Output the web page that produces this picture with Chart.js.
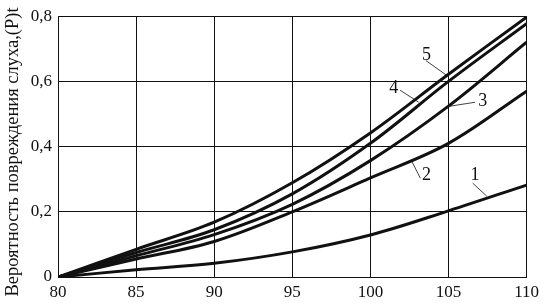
<!DOCTYPE html>
<html><head><meta charset="utf-8">
<script src="https://cdn.jsdelivr.net/npm/chart.js@4/dist/chart.umd.min.js"></script>
<style>html,body{margin:0;padding:0;background:#fff}#w{width:544px;height:305px}</style>
</head><body><div id="w"><canvas id="c"></canvas></div>
<script>
const levels = [80, 85, 90, 95, 100, 105, 110];
const curve1 = [0, 0.022, 0.042, 0.077, 0.129, 0.203, 0.282];
const curve2 = [0, 0.055, 0.109, 0.200, 0.304, 0.410, 0.570];
const curve3 = [0, 0.065, 0.130, 0.223, 0.357, 0.524, 0.720];
const curve4 = [0, 0.075, 0.145, 0.255, 0.410, 0.600, 0.777];
const curve5 = [0, 0.085, 0.168, 0.289, 0.442, 0.622, 0.797];
const yTicks = ['0', '0,2', '0,4', '0,6', '0,8'];
const yTitle = 'Вероятность повреждения слуха,(P)t';
const curveNames = ['1', '2', '3', '4', '5'];
// label anchors in data units: [textX, textY, lineX1, lineY1, lineX2, lineY2]
const labelAnchors = [
  [106.7, 0.312, 106.55, 0.288, 107.45, 0.248],
  [103.6, 0.312, 103.2, 0.303, 102.65, 0.355],
  [107.2, 0.539, 106.7, 0.536, 105.1, 0.524],
  [101.5, 0.579, 101.9, 0.573, 103.1, 0.536],
  [103.6, 0.680, 103.55, 0.664, 104.9, 0.618]
];
const series = [curve1, curve2, curve3, curve4, curve5];
const serif = '"Liberation Serif", "Times New Roman", serif';

const labelPlugin = {
  id: 'curveLabels',
  afterDatasetsDraw(chart) {
    const ctx = chart.ctx, xs = chart.scales.x, ys = chart.scales.y;
    ctx.save();
    ctx.strokeStyle = '#111'; ctx.lineWidth = 0.8;
    ctx.fillStyle = '#111';
    ctx.font = '18px ' + serif;
    ctx.textAlign = 'center'; ctx.textBaseline = 'middle';
    labelAnchors.forEach((a, i) => {
      ctx.beginPath();
      ctx.moveTo(xs.getPixelForValue(a[2]), ys.getPixelForValue(a[3]));
      ctx.lineTo(xs.getPixelForValue(a[4]), ys.getPixelForValue(a[5]));
      ctx.stroke();
      ctx.fillText(curveNames[i], xs.getPixelForValue(a[0]), ys.getPixelForValue(a[1]));
    });
    // y-axis title
    ctx.translate(13, 152);
    ctx.rotate(-Math.PI / 2);
    ctx.font = '18.5px ' + serif;
    ctx.fillText(yTitle, 0, 0);
    ctx.restore();
  }
};

new Chart(document.getElementById('c'), {
  type: 'line',
  data: {
    datasets: series.map((s, i) => ({
      label: curveNames[i],
      data: levels.map((x, j) => ({x, y: s[j]})),
      borderColor: '#111', borderWidth: 3, pointRadius: 0,
      tension: 0.35, fill: false
    }))
  },
  options: {
    responsive: true, maintainAspectRatio: false, animation: false,
    layout: {padding: {top: 13, right: 16, left: 0, bottom: 0}},
    plugins: {legend: {display: false}, tooltip: {enabled: false}},
    scales: {
      x: {
        type: 'linear', min: 80, max: 110,
        ticks: {stepSize: 5, color: '#111', font: {family: serif, size: 17}, padding: 5},
        grid: {color: '#111', lineWidth: 1, drawTicks: false},
        border: {color: '#111', width: 1},
        afterFit(s) { s.height = 28; }
      },
      y: {
        min: 0, max: 0.8,
        ticks: {stepSize: 0.2, color: '#111', font: {family: serif, size: 17}, padding: 6,
          callback: (v) => yTicks[Math.round(v / 0.2)]},
        grid: {color: '#111', lineWidth: 1, drawTicks: false},
        border: {color: '#111', width: 1},
        afterFit(s) { s.width = 58; }
      }
    }
  },
  plugins: [labelPlugin]
});
</script></body></html>
